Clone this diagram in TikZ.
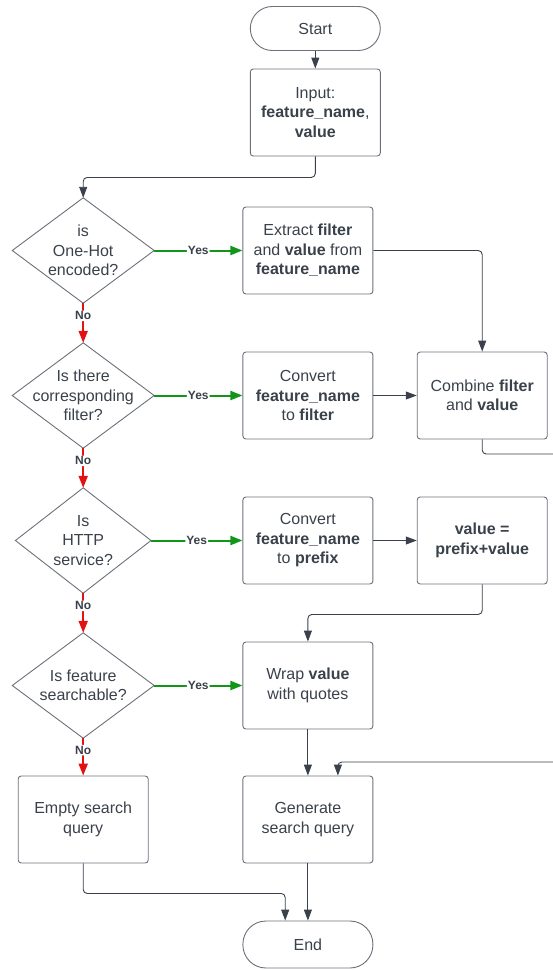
\documentclass[tikz,border=0pt]{standalone}
\usepackage{fontspec}
\setmainfont{Liberation Sans}
\usetikzlibrary{arrows.meta}
\definecolor{ink}{HTML}{3A414A}
\definecolor{edge}{HTML}{6B7079}
\definecolor{yesgreen}{HTML}{12961A}
\definecolor{nored}{HTML}{E31212}

\begin{document}
\begin{tikzpicture}[x=1pt,y=-1pt,
		every node/.style={text=ink,font=\fontsize{16}{19.5}\selectfont,align=center},
		box/.style={draw=edge,line width=0.9pt,rounded corners=3pt,minimum width=130pt,minimum height=87pt,inner sep=0pt},
		term/.style={draw=edge,line width=0.9pt,rounded corners=22pt,minimum width=130pt,minimum height=44pt,inner sep=0pt},
		decision/.style={minimum width=141.5pt,minimum height=105pt,inner sep=0pt},
		flow/.style={draw=ink,line width=0.9pt,rounded corners=4pt,-{Triangle[length=11pt,width=8pt]}},
		yesflow/.style={flow,draw=yesgreen,line width=2pt,-{Triangle[length=12pt,width=9pt]}},
		noflow/.style={flow,draw=nored,line width=2pt,-{Triangle[length=12pt,width=9pt]}},
		lbl/.style={fill=white,inner sep=1pt,text=ink,font=\bfseries\fontsize{12}{13}\selectfont}]
			\useasboundingbox (0,0) rectangle (552,970);
			% start and input
			\node[term] (start) at (315.3,28.5) {Start};
			\node[box] (inp) at (315.3,112.5) {Input:\\\textbf{feature\_name},\\\textbf{value}};
			% decisions
			\node[decision] (d1) at (83.2,250.5) {is\\One-Hot\\encoded?};
			\node[decision] (d2) at (83.2,395.5) {Is there\\corresponding\\filter?};
			\node[decision,minimum width=135.2pt] (d3) at (83.2,540.5) {Is\\HTTP\\service?};
			\node[decision] (d4) at (83.2,685.5) {Is feature\\searchable?};
			\foreach \d in {d1,d2,d3,d4} {
				\draw[draw=edge,line width=0.9pt] (\d.north) -- (\d.east) -- (\d.south) -- (\d.west) -- cycle;
			}
			% steps
			\node[box] (ext) at (307.9,250.5) {Extract \textbf{filter}\\and \textbf{value} from\\\textbf{feature\_name}};
			\node[box] (conv1) at (307.9,395.5) {Convert\\\textbf{feature\_name}\\to \textbf{filter}};
			\node[box] (comb) at (482.2,395.5) {Combine \textbf{filter}\\and \textbf{value}};
			\node[box] (conv2) at (307.9,540.5) {Convert\\\textbf{feature\_name}\\to \textbf{prefix}};
			\node[box] (pre) at (482.2,540.5) {\textbf{value =}\\\textbf{prefix+value}};
			\node[box] (wrap) at (307.9,685.5) {Wrap \textbf{value}\\with quotes};
			\node[box] (empty) at (83.2,819.5) {Empty search\\query};
			\node[box] (gen) at (307.9,819.5) {Generate\\search query};
			\node[term,minimum height=47pt,rounded corners=23pt] (stop) at (307.9,944.5) {End};
			% yes and no branches
			\foreach \a/\b in {d1/ext,d2/conv1,d3/conv2,d4/wrap} {
				\draw[yesflow] (\a.east) -- (\b.west) node[lbl,midway] {Yes};
			}
			\foreach \a/\b in {d1/d2,d2/d3,d3/d4,d4/empty} {
				\draw[noflow] (\a.south) -- (\b.north) node[lbl,pos=0.32] {No};
			}
			% other connectors
			\draw[flow] (start) -- (inp);
			\draw[flow] (inp.south) -- ++(0,21) -| (d1.north);
			\draw[flow] (ext.east) -| (comb.north);
			\draw[flow] (conv1) -- (comb);
			\draw[flow] (conv2) -- (pre);
			\draw[flow] (pre.south) -- ++(0,30) -| (wrap.north);
			\draw[flow] (wrap) -- (gen);
			\coordinate (rim1) at (575,454);
			\coordinate (rim2) at (575,762);
			\draw[flow] (comb.south) |- (rim1) -- (rim2) -| ([xshift=30pt]gen.north);
			\draw[flow] (empty.south) -- ++(0,30) -| ([xshift=-22.7pt]stop.north);
			\draw[flow] (gen) -- (stop);
		\end{tikzpicture}
\end{document}
